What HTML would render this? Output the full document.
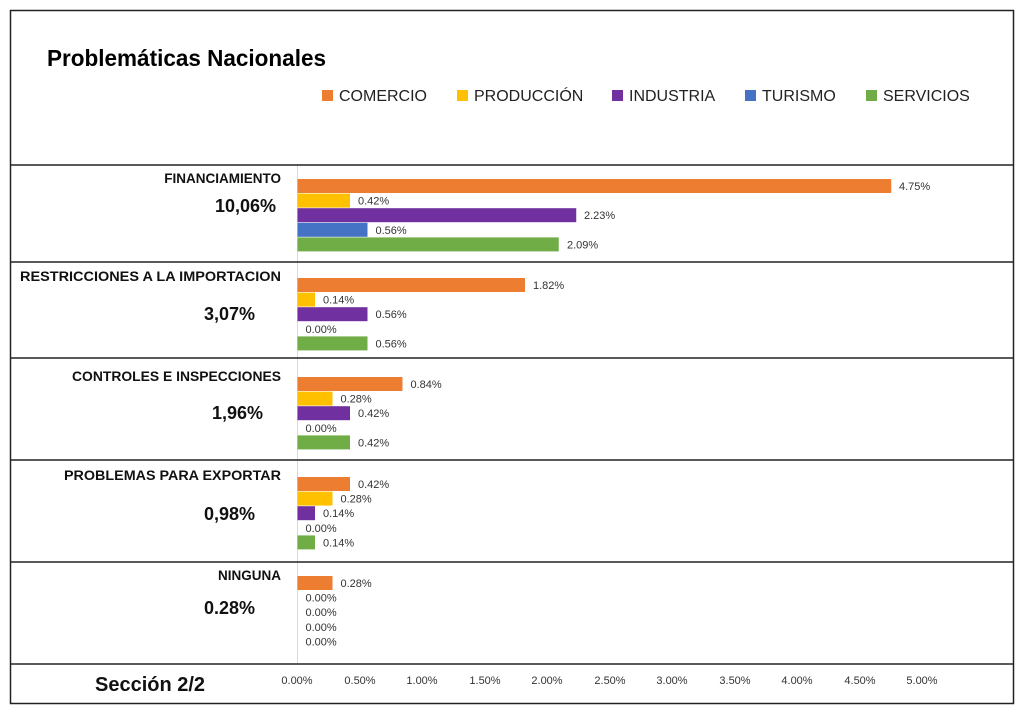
<!DOCTYPE html>
<html><head><meta charset="utf-8"><style>
html,body{margin:0;padding:0;background:#fff}
svg{display:block;font-family:"Liberation Sans",sans-serif}
</style></head><body>
<svg width="1024" height="710" viewBox="0 0 1024 710" xmlns="http://www.w3.org/2000/svg">
<rect x="10.5" y="10.5" width="1003" height="693" fill="#fff" stroke="#222" stroke-width="1.5"/>
<text x="47" y="66" font-size="23" font-weight="bold" textLength="279" lengthAdjust="spacingAndGlyphs">Problemáticas Nacionales</text>
<g font-size="16" fill="#222">
<rect x="322" y="90" width="11" height="11" fill="#ED7D31"/><text x="339" y="101">COMERCIO</text>
<rect x="457" y="90" width="11" height="11" fill="#FFC000"/><text x="474" y="101">PRODUCCIÓN</text>
<rect x="612" y="90" width="11" height="11" fill="#7030A0"/><text x="629" y="101">INDUSTRIA</text>
<rect x="745" y="90" width="11" height="11" fill="#4472C4"/><text x="762" y="101">TURISMO</text>
<rect x="866" y="90" width="11" height="11" fill="#70AD47"/><text x="883" y="101">SERVICIOS</text>
</g>
<line x1="297.5" y1="165" x2="297.5" y2="663" stroke="#d9d9d9" stroke-width="1"/>
<g stroke="#222" stroke-width="1.5">
<line x1="10" y1="165" x2="1014" y2="165"/>
<line x1="10" y1="262" x2="1014" y2="262"/>
<line x1="10" y1="358" x2="1014" y2="358"/>
<line x1="10" y1="460" x2="1014" y2="460"/>
<line x1="10" y1="562" x2="1014" y2="562"/>
<line x1="10" y1="664" x2="1014" y2="664"/>
</g>
<g font-weight="bold" text-anchor="end" fill="#111">
<text x="281" y="183" font-size="13.5">FINANCIAMIENTO</text>
<text x="276" y="212" font-size="18">10,06%</text>
<text x="281" y="281" font-size="13.5" textLength="261" lengthAdjust="spacingAndGlyphs">RESTRICCIONES A LA IMPORTACION</text>
<text x="255" y="320" font-size="18">3,07%</text>
<text x="281" y="381" font-size="13.5" textLength="209" lengthAdjust="spacingAndGlyphs">CONTROLES E INSPECCIONES</text>
<text x="263" y="419" font-size="18">1,96%</text>
<text x="281" y="480" font-size="13.5" textLength="217" lengthAdjust="spacingAndGlyphs">PROBLEMAS PARA EXPORTAR</text>
<text x="255" y="520" font-size="18">0,98%</text>
<text x="281" y="580" font-size="13.5">NINGUNA</text>
<text x="255" y="614" font-size="18">0.28%</text>
</g>
<text x="95" y="691" font-size="20" font-weight="bold" fill="#111">Sección 2/2</text>
<g font-size="11" fill="#333" text-anchor="middle">
<text x="297" y="684">0.00%</text><text x="360" y="684">0.50%</text><text x="422" y="684">1.00%</text>
<text x="485" y="684">1.50%</text><text x="547" y="684">2.00%</text><text x="610" y="684">2.50%</text>
<text x="672" y="684">3.00%</text><text x="735" y="684">3.50%</text><text x="797" y="684">4.00%</text>
<text x="860" y="684">4.50%</text><text x="922" y="684">5.00%</text>
</g>
<g>
<rect x="297.5" y="179" width="593.75" height="14" fill="#ED7D31"/>
<rect x="297.5" y="193.6" width="52.5" height="14" fill="#FFC000"/>
<rect x="297.5" y="208.2" width="278.75" height="14" fill="#7030A0"/>
<rect x="297.5" y="222.8" width="70" height="14" fill="#4472C4"/>
<rect x="297.5" y="237.4" width="261.25" height="14" fill="#70AD47"/>

<rect x="297.5" y="278" width="227.5" height="14" fill="#ED7D31"/>
<rect x="297.5" y="292.6" width="17.5" height="14" fill="#FFC000"/>
<rect x="297.5" y="307.2" width="70" height="14" fill="#7030A0"/>
<rect x="297.5" y="336.4" width="70" height="14" fill="#70AD47"/>

<rect x="297.5" y="377" width="105" height="14" fill="#ED7D31"/>
<rect x="297.5" y="391.6" width="35" height="14" fill="#FFC000"/>
<rect x="297.5" y="406.2" width="52.5" height="14" fill="#7030A0"/>
<rect x="297.5" y="435.4" width="52.5" height="14" fill="#70AD47"/>

<rect x="297.5" y="477" width="52.5" height="14" fill="#ED7D31"/>
<rect x="297.5" y="491.6" width="35" height="14" fill="#FFC000"/>
<rect x="297.5" y="506.2" width="17.5" height="14" fill="#7030A0"/>
<rect x="297.5" y="535.4" width="17.5" height="14" fill="#70AD47"/>

<rect x="297.5" y="576" width="35" height="14" fill="#ED7D31"/>
</g>
<g font-size="11" fill="#333">
<text x="899" y="190">4.75%</text>
<text x="358" y="204.6">0.42%</text>
<text x="584" y="219.2">2.23%</text>
<text x="375.5" y="233.8">0.56%</text>
<text x="567" y="248.4">2.09%</text>

<text x="533" y="289">1.82%</text>
<text x="323" y="303.6">0.14%</text>
<text x="375.5" y="318.2">0.56%</text>
<text x="305.5" y="332.8">0.00%</text>
<text x="375.5" y="347.4">0.56%</text>

<text x="410.5" y="388">0.84%</text>
<text x="340.5" y="402.6">0.28%</text>
<text x="358" y="417.2">0.42%</text>
<text x="305.5" y="431.8">0.00%</text>
<text x="358" y="446.4">0.42%</text>

<text x="358" y="488">0.42%</text>
<text x="340.5" y="502.6">0.28%</text>
<text x="323" y="517.2">0.14%</text>
<text x="305.5" y="531.8">0.00%</text>
<text x="323" y="546.4">0.14%</text>

<text x="340.5" y="587">0.28%</text>
<text x="305.5" y="601.6">0.00%</text>
<text x="305.5" y="616.2">0.00%</text>
<text x="305.5" y="630.8">0.00%</text>
<text x="305.5" y="645.4">0.00%</text>
</g>
</svg>
</body></html>
